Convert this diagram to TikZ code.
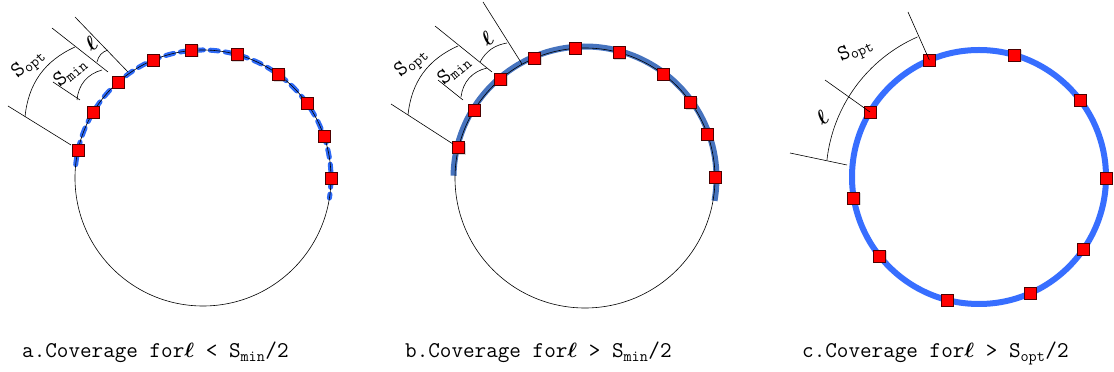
\documentclass[tikz,border=0pt]{standalone}
\usepackage{fontspec}
\usepackage{amsmath}
\usetikzlibrary{shadows, positioning}
\definecolor{bluea}{RGB}{45, 105, 245}
\definecolor{blueb}{RGB}{70, 115, 190}
\definecolor{bluec}{RGB}{55, 110, 255}
\definecolor{redsq}{RGB}{255, 0, 0}

\begin{document}
\begin{tikzpicture}[x=1pt, y=1pt,
  sensor/.style={draw=black!70!red, fill=redsq, line width=0.7pt, minimum size=12pt, inner sep=0pt,
    drop shadow={shadow xshift=1pt, shadow yshift=-1pt, opacity=0.3}},
  dimline/.style={line width=0.6pt},
  lbl/.style={font=\fontsize{22}{24}\ttfamily, inner sep=0pt},
  ell/.style={font=\fontsize{20.74}{23}\selectfont, inner sep=0pt},
  caption/.style={font=\fontsize{22.5}{25}\ttfamily, anchor=base west, inner sep=0pt}]
  \useasboundingbox (0,0) rectangle (1114,372);

  % Panel a: coverage arcs broken between sensors
  \coordinate (ca) at (203,194);
  \draw[bluea, line width=5pt, line cap=round, dash pattern=on 8pt off 7pt]
    ([shift={(174:128)}]ca) arc[start angle=174, end angle=-9, radius=128];
  \draw[line width=0.6pt] (ca) circle[radius=128];
  \foreach \a [count=\i] in {0, 19, 35.7, 53.7, 74.5, 95, 113, 131.5, 149, 167.5}
    \node[sensor] (sa\i) at ([shift={(\a:128)}]ca) {};

  \coordinate (a1s) at (8,266);   \coordinate (a1e) at (71,227);
  \coordinate (a2s) at (52,344);  \coordinate (a2e) at (108,300);
  \coordinate (a3s) at (53,290);  \coordinate (a3e) at (80,272);
  \coordinate (a4s) at (75,355);  \coordinate (a4e) at (128,300);
  \draw[dimline] (a1s) -- (a1e);
  \draw[dimline] (a2s) -- (a2e);
  \draw[dimline] (a3s) -- (a3e);
  \draw[dimline] (a4s) -- (a4e);
  \draw[dimline] (25,255) to[bend left=30] (75,325);
  \draw[dimline] (77,272) to[bend left=35] (102,302);
  \draw[dimline] (97,310) to[bend left=30] (108,322);
  \node[lbl, rotate=40] (aopt) at (29,308) {S\textsubscript{opt}};
  \node[lbl, rotate=40] (amin) at (70,300) {S\textsubscript{min}};
  \node[ell, rotate=40] (aell) at (91,328) {$\boldsymbol{\ell}$};

  % Panel b: arcs overlap into one band
  \coordinate (cb) at (585,194);
  \draw[blueb, line width=6pt] ([shift={(179:131.5)}]cb) arc[start angle=179, end angle=-10, radius=131.5];
  \draw[line width=0.6pt] (cb) circle[radius=130];
  \foreach \a [count=\i] in {0.5, 19.6, 35.5, 53.2, 74.7, 94.4, 112.7, 130.5, 148.6, 166.5}
    \node[sensor] (sb\i) at ([shift={(\a:130)}]cb) {};

  \coordinate (b1s) at (391,268); \coordinate (b1e) at (453,228);
  \coordinate (b2s) at (435,346); \coordinate (b2e) at (492,300);
  \coordinate (b3s) at (438,292); \coordinate (b3e) at (463,272);
  \coordinate (b4s) at (483,370); \coordinate (b4e) at (522,308);
  \draw[dimline] (b1s) -- (b1e);
  \draw[dimline] (b2s) -- (b2e);
  \draw[dimline] (b3s) -- (b3e);
  \draw[dimline] (b4s) -- (b4e);
  \draw[dimline] (408,257) to[bend left=30] (458,326);
  \draw[dimline] (461,275) to[bend left=35] (487,304);
  \draw[dimline] (480,310) to[bend left=25] (507,329);
  \node[lbl, rotate=40] (bopt) at (412,309) {S\textsubscript{opt}};
  \node[lbl, rotate=40] (bmin) at (454,302) {S\textsubscript{min}};
  \node[ell, rotate=40] (bell) at (487,333) {$\boldsymbol{\ell}$};

  % Panel c: full ring
  \coordinate (cc) at (979,195);
  \draw[bluec, line width=6pt] (cc) circle[radius=127];
  \foreach \a [count=\i] in {113, 73.7, 37.3, -0.5, -34.8, -66.2, -104.4, -141.5, -170.5, 149.2}
    \node[sensor] (sc\i) at ([shift={(\a:127)}]cc) {};

  \coordinate (c1s) at (908,360); \coordinate (c2s) at (825,292);
  \coordinate (c3s) at (790,219); \coordinate (c3e) at (847,207);
  \draw[dimline] (c1s) -- (sc1.center);
  \draw[dimline] (c2s) -- (sc10.center);
  \draw[dimline] (c3s) -- (c3e);
  \draw[dimline] ([shift={(173.8:153)}]cc) arc[start angle=173.8, end angle=113.7, radius=153];
  \node[lbl, rotate=25] (copt) at (856,321) {S\textsubscript{opt}};
  \node[ell, rotate=40] (cell) at (822,254) {$\boldsymbol{\ell}$};

  % Captions
  \node[caption] (capa) at (22,14) {a.Coverage for$\boldsymbol{\ell}$ < S\textsubscript{min}/2};
  \node[caption] (capb) at (405,14) {b.Coverage for$\boldsymbol{\ell}$ > S\textsubscript{min}/2};
  \node[caption] (capc) at (802,14) {c.Coverage for$\boldsymbol{\ell}$ > S\textsubscript{opt}/2};
\end{tikzpicture}
\end{document}
